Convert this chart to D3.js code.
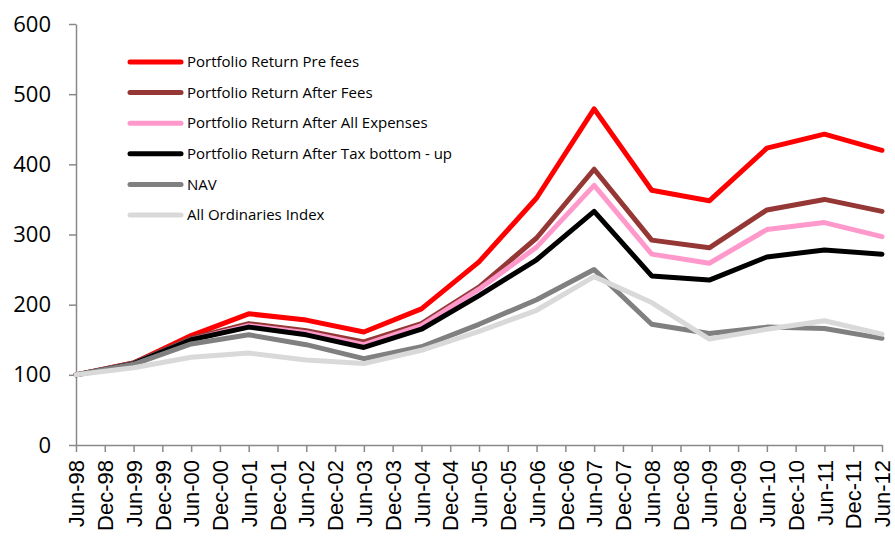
<!DOCTYPE html>
<html>
<head>
<meta charset="utf-8">
<script src="https://cdnjs.cloudflare.com/ajax/libs/d3/7.8.5/d3.min.js"></script>
<style>
  body { margin: 0; background: #fff; }
  svg { display: block; }
</style>
</head>
<body>
<div id="chart"></div>
<script>
// Axis categories (half-yearly labels)
const categories = [
  "Jun-98", "Dec-98", "Jun-99", "Dec-99", "Jun-00", "Dec-00", "Jun-01", "Dec-01",
  "Jun-02", "Dec-02", "Jun-03", "Dec-03", "Jun-04", "Dec-04", "Jun-05", "Dec-05",
  "Jun-06", "Dec-06", "Jun-07", "Dec-07", "Jun-08", "Dec-08", "Jun-09", "Dec-09",
  "Jun-10", "Dec-10", "Jun-11", "Dec-11", "Jun-12"
];

// Observation dates (annual, June)
const dates = [
  "Jun-98", "Jun-99", "Jun-00", "Jun-01", "Jun-02", "Jun-03", "Jun-04", "Jun-05",
  "Jun-06", "Jun-07", "Jun-08", "Jun-09", "Jun-10", "Jun-11", "Jun-12"
];

const preFees     = [100, 117, 156, 187, 178, 161, 194, 261, 352, 479, 363, 348, 423, 443, 420];
const afterFees   = [100, 117, 152, 173, 163, 147, 173, 225, 295, 393, 292, 281, 335, 350, 333];
const afterExp    = [100, 116, 150, 170, 160, 143, 170, 222, 282, 370, 272, 259, 307, 317, 297];
const afterTax    = [100, 116, 150, 168, 157, 139, 165, 213, 264, 333, 241, 235, 268, 278, 272];
const nav         = [100, 115, 144, 157, 143, 123, 140, 172, 207, 250, 172, 159, 168, 166, 152];
const allOrds     = [100, 110, 125, 131, 121, 116, 135, 162, 192, 240, 203, 151, 165, 177, 158];

const yTicks = [0, 100, 200, 300, 400, 500, 600];

const series = [
  { name: "Portfolio Return Pre fees", values: preFees, color: "#ff0000" },
  { name: "Portfolio Return After Fees", values: afterFees, color: "#953735" },
  { name: "Portfolio Return After All Expenses", values: afterExp, color: "#ff99cc" },
  { name: "Portfolio Return After Tax bottom - up", values: afterTax, color: "#000000" },
  { name: "NAV", values: nav, color: "#808080" },
  { name: "All Ordinaries Index", values: allOrds, color: "#d9d9d9" }
];

const width = 895;
const height = 536;
const margin = { top: 24, right: 13, bottom: 91, left: 76 };

const svg = d3.select("#chart")
  .append("svg")
  .attr("width", width)
  .attr("height", height);

const x = d3.scalePoint()
  .domain(categories)
  .range([margin.left, width - margin.right]);

const y = d3.scaleLinear()
  .domain([0, 600])
  .range([height - margin.bottom, margin.top]);

// Y axis
const yAxis = svg.append("g")
  .attr("transform", `translate(${margin.left},0)`)
  .call(d3.axisLeft(y).tickValues(yTicks).tickSize(7).tickSizeOuter(0).tickPadding(18));

yAxis.select(".domain").attr("stroke", "#898989").attr("stroke-width", 1.5);
yAxis.selectAll(".tick line").attr("stroke", "#898989").attr("stroke-width", 1.5);
yAxis.selectAll(".tick text")
  .style("font-family", "'Open Sans', Lato, sans-serif")
  .style("font-size", "22px")
  .attr("fill", "#000");

// X axis
const xAxis = svg.append("g")
  .attr("transform", `translate(0,${height - margin.bottom})`)
  .call(d3.axisBottom(x).tickSize(7).tickSizeOuter(0).tickPadding(0));

xAxis.select(".domain").attr("stroke", "#898989").attr("stroke-width", 1.5);
xAxis.selectAll(".tick line").attr("stroke", "#898989").attr("stroke-width", 1.5);
xAxis.selectAll(".tick text")
  .style("font-family", "'Liberation Sans', Arial, sans-serif")
  .style("font-size", "22px")
  .attr("fill", "#000")
  .attr("text-anchor", "end")
  .attr("dy", "0.35em")
  .attr("transform", "translate(0,15) rotate(-90)")
  .attr("y", 0)
  .attr("x", 0);

// Lines
const line = d3.line()
  .x((d, i) => x(dates[i]))
  .y((d) => y(d));

svg.append("g")
  .selectAll("path")
  .data(series)
  .join("path")
  .attr("d", (d) => line(d.values))
  .attr("fill", "none")
  .attr("stroke", (d) => d.color)
  .attr("stroke-width", 5)
  .attr("stroke-linejoin", "round")
  .attr("stroke-linecap", "round");

// Legend
const legend = svg.append("g").attr("transform", "translate(130,62)");

const items = legend.selectAll("g")
  .data(series)
  .join("g")
  .attr("transform", (d, i) => `translate(0,${i * 30.6})`);

items.append("line")
  .attr("x1", 0)
  .attr("x2", 51)
  .attr("stroke", (d) => d.color)
  .attr("stroke-width", 5)
  .attr("stroke-linecap", "round");

items.append("text")
  .attr("x", 57)
  .attr("dy", "0.35em")
  .style("font-family", "'Open Sans', Lato, sans-serif")
  .style("font-size", "15px")
  .attr("fill", "#000")
  .text((d) => d.name);
</script>
</body>
</html>
